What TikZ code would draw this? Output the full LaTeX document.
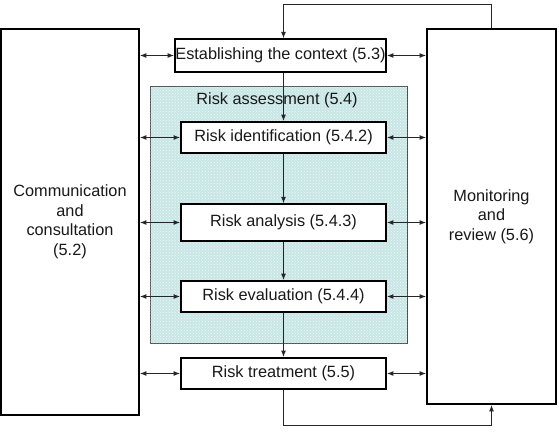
\documentclass[tikz,border=0pt]{standalone}
\usepackage{fontspec}
\setmainfont{Liberation Sans}
\usepackage{tikz}
\usetikzlibrary{arrows.meta, positioning, patterns, calc}

\definecolor{zonecol}{RGB}{200,230,230}
\definecolor{inkcol}{RGB}{25,25,25}

\begin{document}
\begin{tikzpicture}[
  x=1pt, y=-1pt,
  node distance=85pt,
  every node/.style={font=\fontsize{16.3}{19.5}\selectfont, text=inkcol},
  stepbox/.style={rectangle, draw=black, line width=1.8pt, fill=white, minimum width=205pt, minimum height=31pt, inner sep=0pt},
  sidebox/.style={rectangle, draw=black, line width=1.8pt, fill=white, align=center, inner sep=0pt},
  zone/.style={rectangle, draw=black!70, line width=0.8pt, fill=zonecol, postaction={pattern=crosshatch dots, pattern color=white!75!zonecol}, minimum width=257pt, minimum height=257pt, inner sep=0pt},
  flowarrow/.style={-{Latex[length=6.5pt,width=5pt]}, line width=1pt, black!85},
  linkarrow/.style={{Latex[length=6.5pt,width=5pt]}-{Latex[length=6.5pt,width=5pt]}, line width=1pt, black!85}
]
\useasboundingbox (0,0) rectangle (559,434);

% Side boxes
\node[sidebox, minimum width=138pt, minimum height=386pt] (comm) at (70,222) {Communication\\and\\consultation\\(5.2)};
\node[sidebox, minimum width=129pt, minimum height=375pt] (monitor) at (491.5,216.5) {Monitoring\\and\\review (5.6)};

% Risk assessment area
\node[zone] (assess) at (278.5,214.5) {};
\node[below=6pt of assess.north, xshift=-1.5pt, inner sep=1pt] (assesslabel) {Risk assessment (5.4)};

% Process steps
\node[stepbox, minimum width=211pt, minimum height=32.5pt] (context) at (280.5,55.5) {Establishing the context (5.3)};
\node[stepbox] (ident) at (283.5,137.5) {Risk identification (5.4.2)};
\node[stepbox, below of=ident, minimum height=36.5pt] (analysis) {Risk analysis (5.4.3)};
\node[stepbox, below of=analysis, node distance=74pt] (evaluation) {Risk evaluation (5.4.4)};
\node[stepbox, below of=evaluation, node distance=77pt] (treatment) {Risk treatment (5.5)};

% Loop coordinates
\coordinate (looptop) at (283.5,4);
\coordinate (loopbot) at (283.5,425);

% Main flow
\draw[flowarrow] (ident.north |- context.south) -- (ident.north);
\draw[flowarrow] (ident) -- (analysis);
\draw[flowarrow] (analysis) -- (evaluation);
\draw[flowarrow] (evaluation) -- (treatment);

% Feedback loops
\draw[flowarrow] (monitor.north) |- (looptop) -- (looptop |- context.north);
\draw[flowarrow] (treatment.south) -- (loopbot) -| (monitor.south);

% Communication and monitoring links
\foreach \s in {context, ident, analysis, evaluation, treatment} {
  \draw[linkarrow] (comm.east |- \s.west) -- (\s.west);
  \draw[linkarrow] (\s.east) -- (monitor.west |- \s.east);
}

\end{tikzpicture}
\end{document}
